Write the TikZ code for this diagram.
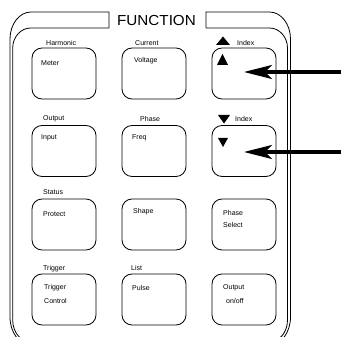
\documentclass[tikz,border=0pt]{standalone}
\usepackage{graphicx}
\usepackage{fontspec}
\setmainfont{Liberation Sans}
\usetikzlibrary{arrows.meta}
\begin{document}
\begin{tikzpicture}[x=1pt,y=-1pt,
  frame/.style={line width=0.8pt},
  btn/.style={draw, line width=0.85pt, rounded corners=10pt, minimum width=64pt, minimum height=51pt, inner sep=0pt},
  lbl/.style={font=\fontsize{7}{8}\selectfont, anchor=west, inner sep=0pt},
  arr/.style={line width=3.2pt, -{Stealth[length=28pt,width=14pt,inset=7pt]}}]
\clip (0,0) rectangle (341,337);
\fill[white] (0,0) rectangle (341,337);
% outer frame
\draw[frame] (109,28) -- (109,12) -- (31,12) .. controls (19.4,12) and (10,24.1) .. (10,39)
  -- (10,317) .. controls (10,332.5) and (19.4,345) .. (31,345)
  -- (269.5,345) .. controls (281.1,345) and (290.5,332.5) .. (290.5,317)
  -- (290.5,39) .. controls (290.5,24.1) and (281.1,12) .. (269.5,12)
  -- (206,12) -- (206,28);
% inner frame
\draw[frame] (109,28) -- (30.7,28) .. controls (20.8,28) and (12.7,37) .. (12.7,48)
  -- (12.7,320) .. controls (12.7,332.2) and (20.8,342) .. (30.7,342)
  -- (269.5,342) .. controls (279.4,342) and (287.5,332.2) .. (287.5,320)
  -- (287.5,48) .. controls (287.5,37) and (279.4,28) .. (269.5,28)
  -- (206,28);
\node[font=\fontsize{14.5}{16}\selectfont, inner sep=0pt] (fn) at (156.5,20.5) {\scalebox{1.05}[1]{FUNCTION}};
% buttons
\node[btn] (b11) at (64,73.5) {};
\node[btn] (b12) at (154,73.5) {};
\node[btn] (b13) at (244,73.5) {};
\node[btn] (b21) at (64,151) {};
\node[btn] (b22) at (154,151) {};
\node[btn] (b23) at (244,151) {};
\node[btn] (b31) at (64,224.5) {};
\node[btn] (b32) at (154,224.5) {};
\node[btn] (b33) at (244,224.5) {};
\node[btn] (b41) at (64,299.5) {};
\node[btn] (b42) at (154,299.5) {};
\node[btn] (b43) at (244,299.5) {};
% labels row 1
\node[lbl] (l11) at (46,43) {Harmonic};
\node[lbl] (l12) at (135,43) {Current};
\node[lbl] (l13) at (237,43) {Index};
\node[lbl] (t11) at (41,63) {Meter};
\node[lbl] (t12) at (134,61) {Voltage};
% row 2
\node[lbl] (l21) at (43,119) {Output};
\node[lbl] (l22) at (140,119) {Phase};
\node[lbl] (l23) at (235,119) {Index};
\node[lbl] (t21) at (41,138) {Input};
\node[lbl] (t22) at (132,138) {Freq};
% row 3
\node[lbl] (l31) at (43,192) {Status};
\node[lbl] (t31) at (43,214) {Protect};
\node[lbl] (t32) at (133,212) {Shape};
\node[lbl] (t33a) at (223,213) {Phase};
\node[lbl] (t33b) at (223,224.5) {Select};
% row 4
\node[lbl] (l41) at (43,269) {Trigger};
\node[lbl] (l42) at (131,268) {List};
\node[lbl] (t41a) at (44,288) {Trigger};
\node[lbl] (t41b) at (44,301) {Control};
\node[lbl] (t42) at (132,288) {Pulse};
\node[lbl] (t43a) at (223,288) {Output};
\node[lbl] (t43b) at (226,301) {on/off};
% triangles
\fill (216,45) -- (230,45) -- (223,36.5) -- cycle;
\fill (217,65) -- (228,65) -- (222.5,54) -- cycle;
\fill (218,115) -- (230,115) -- (224,123.5) -- cycle;
\fill (218,138) -- (228,138) -- (223,147) -- cycle;
% arrows
\coordinate (e1) at (342,72);
\coordinate (e2) at (342,152);
\draw[arr] (e1) -- (e1 -| b13.center);
\draw[arr] (e2) -- (e2 -| b23.center);
\end{tikzpicture}
\end{document}
